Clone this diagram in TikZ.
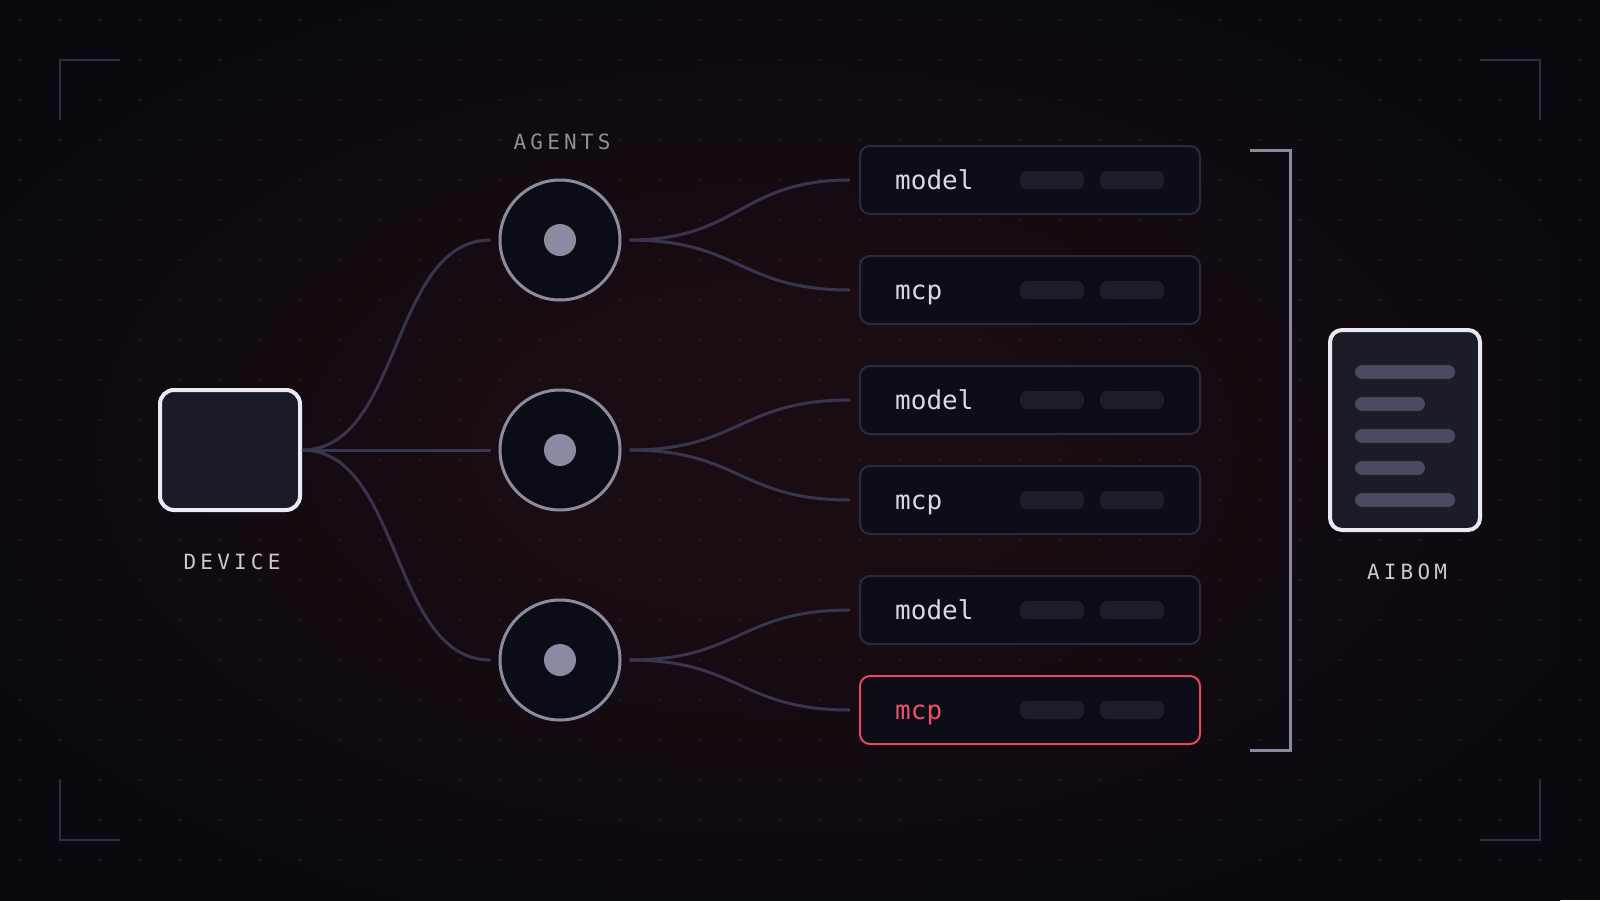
\documentclass[tikz,border=0pt]{standalone}
\usepackage{fontspec}
\newfontfamily\monof{DejaVu Sans Mono}
\newfontfamily\labf[LetterSpace=20]{DejaVu Sans Mono}
\usetikzlibrary{calc}
\definecolor{bgc}{HTML}{09090F}
\definecolor{glowc}{HTML}{1B0C13}
\definecolor{dotc}{HTML}{20202B}
\definecolor{cornerc}{HTML}{2E2E3F}
\definecolor{connc}{HTML}{38364F}
\definecolor{agentstroke}{HTML}{8C8CA0}
\definecolor{agentfill}{HTML}{0B0C16}
\definecolor{dotfill}{HTML}{8A8AA0}
\definecolor{devstroke}{HTML}{EBE9F2}
\definecolor{devfill}{HTML}{1B1A26}
\definecolor{itemfill}{HTML}{0C0D17}
\definecolor{itemstroke}{HTML}{2B2B3E}
\definecolor{pillc}{HTML}{1D1D2A}
\definecolor{redc}{HTML}{E8485F}
\definecolor{redtxt}{HTML}{EE5068}
\definecolor{itemtextc}{HTML}{D9D9E3}
\definecolor{agentlab}{HTML}{8E8E9C}
\definecolor{labc}{HTML}{C9C9D4}
\definecolor{brc}{HTML}{8A8A9E}
\definecolor{docfill}{HTML}{1C1B28}
\definecolor{doclinec}{HTML}{4A4A5E}
\pgfdeclareradialshading{glow}{\pgfpoint{0bp}{0bp}}{color(0bp)=(glowc); color(8bp)=(glowc!92!bgc); color(18bp)=(glowc!50!bgc); color(31bp)=(bgc); color(50bp)=(bgc)}
\tikzset{
  devbox/.style={draw=devstroke, fill=devfill, line width=4, rounded corners=14, minimum width=140, minimum height=120, inner sep=0},
  agent/.style={circle, draw=agentstroke, fill=agentfill, line width=3, minimum size=120, inner sep=0},
  agentdot/.style={circle, fill=dotfill, minimum size=32, inner sep=0},
  conn/.style={draw=connc, line width=3},
  item/.style={draw=itemstroke, fill=itemfill, line width=2, rounded corners=10, minimum width=340, minimum height=68, inner sep=0},
  pill/.style={fill=pillc, rounded corners=7, minimum width=64, minimum height=18, inner sep=0},
  itemtxt/.style={font=\monof\fontsize{26}{30}\selectfont, text=itemtextc, inner sep=0, anchor=base west},
  lab/.style={font=\labf\fontsize{21}{25}\selectfont, inner sep=0},
  corner/.style={draw=cornerc, line width=2},
  docbox/.style={draw=devstroke, fill=docfill, line width=4, rounded corners=12, minimum width=150, minimum height=200, inner sep=0},
  docline/.style={draw=doclinec, line width=14, line cap=round},
}
\begin{document}
\begin{tikzpicture}[x=1pt,y=-1pt]
\fill[bgc] (0,0) rectangle (1600,900);
\useasboundingbox (0,0) rectangle (1600,900);
\shade[shading=glow] (-20,0) rectangle (1560,900);
\foreach \i in {0,...,39} {
  \foreach \j in {0,...,21} {
    \fill[dotc] (20+40*\i,20+40*\j) circle (1.5);
  }
}
% corner marks
\draw[corner] (60,120) -- (60,60) -- (120,60);
\draw[corner] (1480,60) -- (1540,60) -- (1540,120);
\draw[corner] (60,780) -- (60,840) -- (120,840);
\draw[corner] (1480,840) -- (1540,840) -- (1540,780);

% device
\node[devbox] (dev) at (230,450) {};
\node[lab, text=labc] (devl) at (232,562) {DEVICE};

% agents
\node[lab, text=agentlab] (agl) at (562,142) {AGENTS};
\foreach \n/\y in {1/240,2/450,3/660} {
  \node[agent] (a\n) at (560,\y) {};
  \node[agentdot] (d\n) at (a\n) {};
}

% items
\foreach \n/\y/\t in {1/180/model,2/290/mcp,3/400/model,4/500/mcp,5/610/model} {
  \node[item] (b\n) at (1030,\y) {};
  \node[itemtxt] (t\n) at (895,\y+9) {\t};
  \node[pill] (p\n a) at (1052,\y) {};
  \node[pill] (p\n b) at (1132,\y) {};
}
\node[item, draw=redc] (b6) at (1030,710) {};
\node[itemtxt, text=redtxt] (t6) at (895,719) {mcp};
\node[pill] (p6a) at (1052,710) {};
\node[pill] (p6b) at (1132,710) {};

% connectors device -> agents
\foreach \n in {1,2,3} {
  \draw[conn] (dev.east) .. controls +(100,0) and +(-100,0) .. ($(a\n.west)+(-8,0)$);
}
% connectors agents -> items
\foreach \a/\b in {1/1,1/2,2/3,2/4,3/5,3/6} {
  \draw[conn] ($(a\a.east)+(8,0)$) .. controls +(110,0) and +(-110,0) .. ($(b\b.west)+(-9,0)$);
}

% bracket
\draw[draw=brc, line width=3] (1250,150) -- (1290,150) -- (1290,750) -- (1250,750);

% AIBOM document
\node[docbox] (doc) at (1405,430) {};
\draw[docline] (1362,372) -- (1448,372);
\draw[docline] (1362,404) -- (1418,404);
\draw[docline] (1362,436) -- (1448,436);
\draw[docline] (1362,468) -- (1418,468);
\draw[docline] (1362,500) -- (1448,500);
\node[lab, text=labc] (docl) at (1407,572) {AIBOM};
\end{tikzpicture}
\end{document}
